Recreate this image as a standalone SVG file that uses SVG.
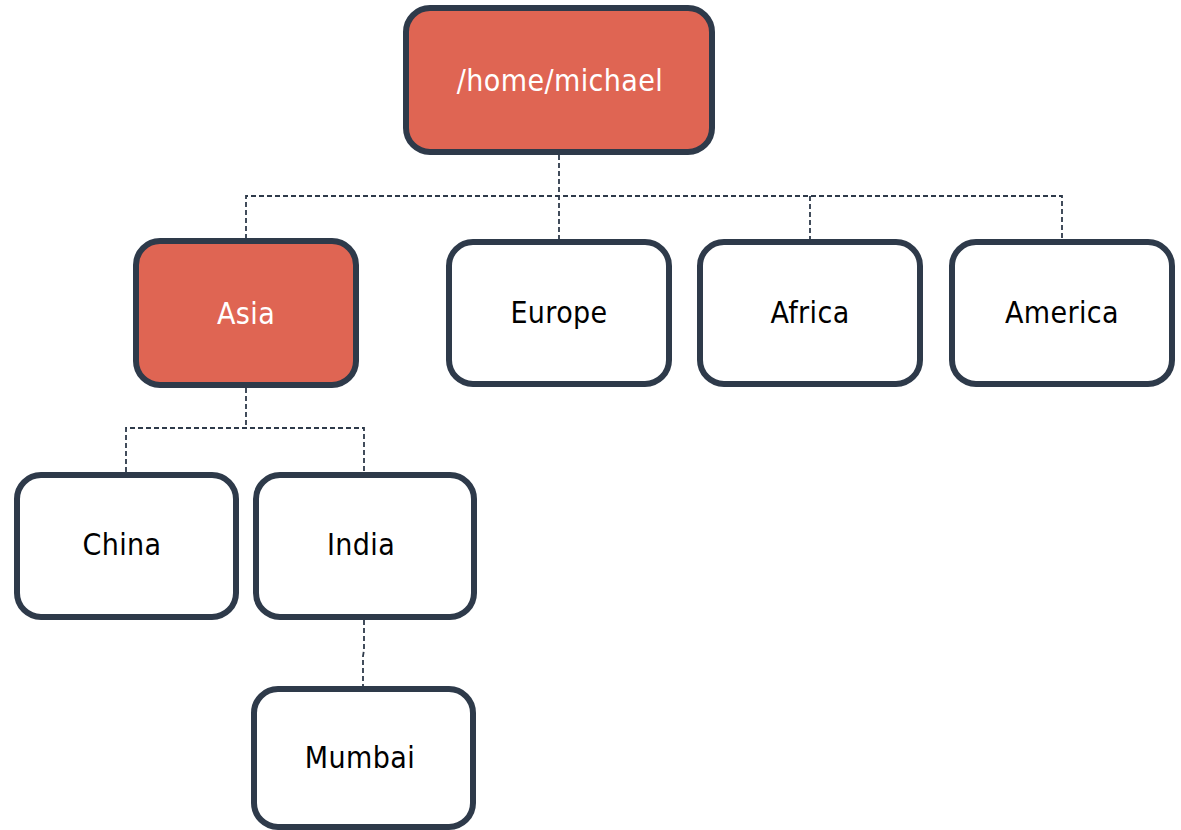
<svg xmlns="http://www.w3.org/2000/svg" width="1181" height="830" viewBox="0 0 1181 830">
<style>
.box{fill:#ffffff;stroke:#2e3a4a;stroke-width:6}
.hl{fill:#df6553}
.t{font-family:"DejaVu Sans Condensed","DejaVu Sans",sans-serif;font-stretch:condensed;font-size:30px;text-anchor:middle;fill:#000000;letter-spacing:0.4px}
.tw{fill:#ffffff}
.c{fill:none;stroke:#2e3a4a;stroke-width:1.8;stroke-dasharray:5 3}
</style>
<rect width="1181" height="830" fill="#ffffff"/>
<g id="connectors">
<path class="c" d="M559 155V239M246 239V196H1062V239M810 196V239"/>
<path class="c" d="M246 388V428M126 472V428H364V472"/>
<path class="c" d="M364 620V650L363 656V686"/>
</g>
<g id="root"><rect class="box hl" x="406" y="8" width="306" height="144" rx="24"/><text class="t tw" x="560" y="91">/home/michael</text></g>
<g id="asia"><rect class="box hl" x="136" y="241" width="220" height="144" rx="24"/><text class="t tw" x="246" y="324">Asia</text></g>
<g id="europe"><rect class="box" x="449" y="242" width="220" height="142" rx="24"/><text class="t" x="559" y="323">Europe</text></g>
<g id="africa"><rect class="box" x="700" y="242" width="220" height="142" rx="24"/><text class="t" x="810" y="323">Africa</text></g>
<g id="america"><rect class="box" x="952" y="242" width="220" height="142" rx="24"/><text class="t" x="1062" y="323">America</text></g>
<g id="china"><rect class="box" x="17" y="475" width="219" height="142" rx="24"/><text class="t" x="122" y="555">China</text></g>
<g id="india"><rect class="box" x="256" y="475" width="218" height="142" rx="24"/><text class="t" x="361" y="555">India</text></g>
<g id="mumbai"><rect class="box" x="254" y="689" width="219" height="138" rx="24"/><text class="t" x="360" y="768" letter-spacing="1.2">Mumbai</text></g>
</svg>
